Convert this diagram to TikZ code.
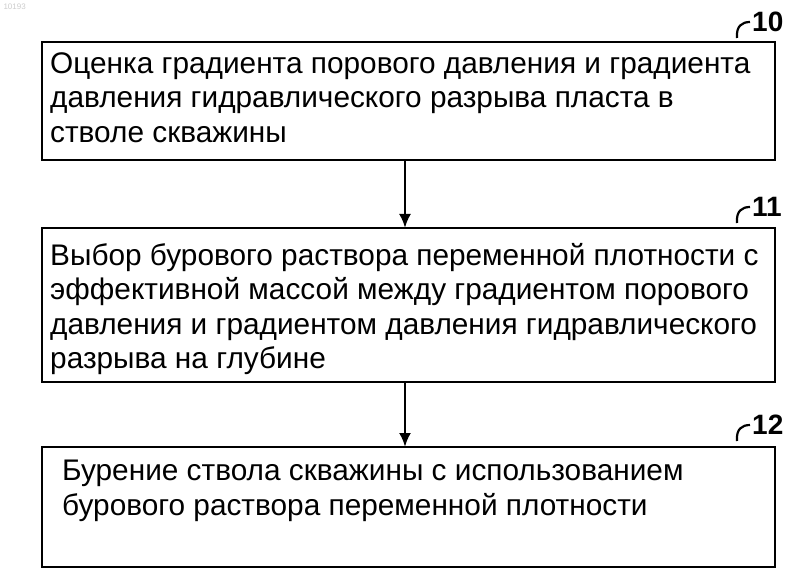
\documentclass[tikz,border=0pt]{standalone}
\usepackage{fontspec}
\setmainfont{Liberation Sans}
\begin{document}
\begin{tikzpicture}[x=1pt,y=-1pt,
  txt/.style={anchor=north west,align=left,inner sep=0pt,font=\fontsize{29.8}{34.5}\selectfont},
  arr/.style={line width=2.5pt,-{Latex[length=14pt,width=12pt]}},
  lbl/.style={font=\bfseries\fontsize{28}{28}\selectfont,anchor=west,inner sep=0pt},
  hook/.style={line width=2.2pt}]
\usetikzlibrary{arrows.meta}
\useasboundingbox (0,0) rectangle (800,585);
\node[anchor=north west,text=black!20,font=\fontsize{8}{8}\selectfont] (wm) at (0,0) {10193};
\draw[line width=2.2pt] (42,42) rectangle (775,160);
\draw[line width=2.2pt] (42,228) rectangle (775,382);
\draw[line width=2.2pt] (42,447) rectangle (775,567);
\coordinate (b1) at (405,160); \coordinate (t2) at (405,228);
\coordinate (b2) at (405,382); \coordinate (t3) at (405,447);
\node[txt] (x1) at (50,52) {Оценка градиента порового давления и градиента\\давления гидравлического разрыва пласта в\\стволе скважины};
\node[txt] (x2) at (50,243) {Выбор бурового раствора переменной плотности с\\эффективной массой между градиентом порового\\давления и градиентом давления гидравлического\\разрыва на глубине};
\node[txt] (x3) at (62,460) {Бурение ствола скважины с использованием\\бурового раствора переменной плотности};
\draw[arr] (b1) -- (t2);
\draw[arr] (b2) -- (t3);
\node[lbl] (l1) at (752,22) {10};
\node[lbl] (l2) at (752,207) {11};
\node[lbl] (l3) at (752,425) {12};
\foreach \y in {22,207,425} \draw[hook] (737,\y+16) .. controls (736,\y+4) and (742,\y) .. (750,\y);
\end{tikzpicture}
\end{document}
